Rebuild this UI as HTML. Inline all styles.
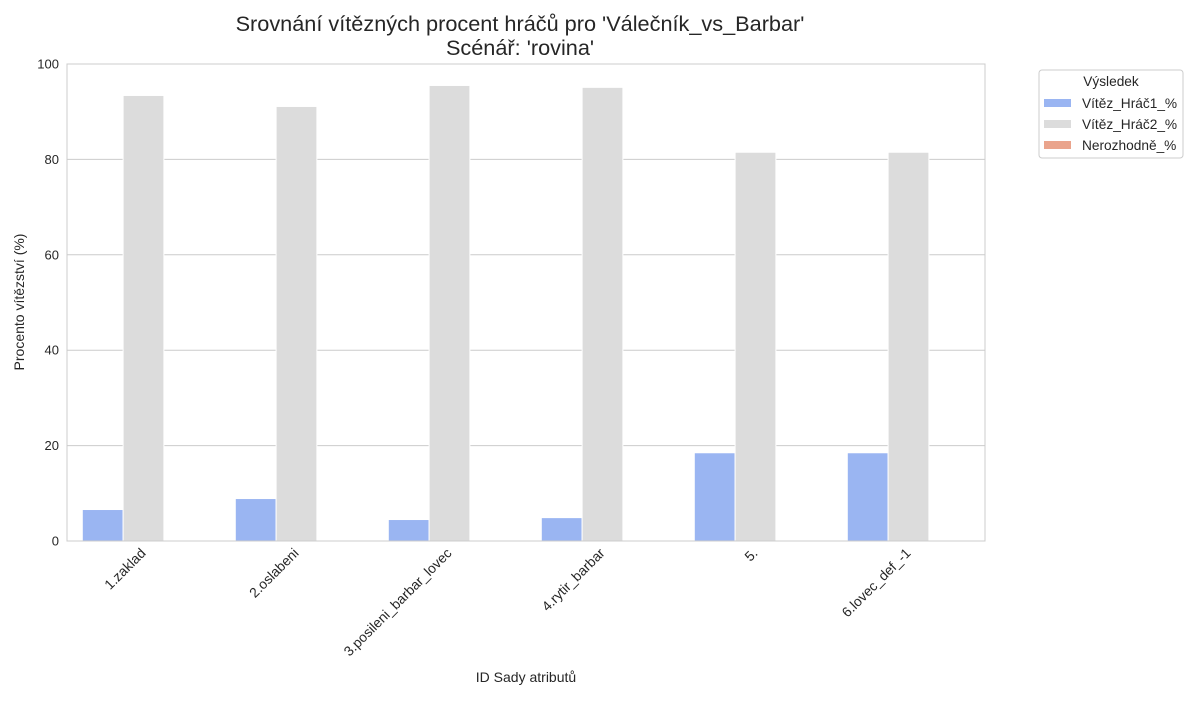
<!DOCTYPE html>
<html><head><meta charset="utf-8">
<style>
body{margin:0;background:#fff;font-family:"Liberation Sans","DejaVu Sans",sans-serif;}
svg text{font-family:"Liberation Sans","DejaVu Sans",sans-serif;fill:#262626;}
</style></head>
<body>
<svg id="chart" width="1200" height="700" xmlns="http://www.w3.org/2000/svg">
<text x="520" y="31" font-size="21.7" text-anchor="middle">Srovnání vítězných procent hráčů pro 'Válečník_vs_Barbar'</text>
<text x="520" y="55" font-size="21.7" text-anchor="middle">Scénář: 'rovina'</text>
<g id="grid"></g>
<g id="bars"></g>
<rect x="67" y="64" width="918" height="477" fill="none" stroke="#cccccc" stroke-width="1"/>
<g id="yticks"></g>
<g id="xticks"></g>
<text transform="translate(24,302) rotate(-90)" font-size="14" text-anchor="middle">Procento vítězství (%)</text>
<text x="526" y="682" font-size="14" text-anchor="middle">ID Sady atributů</text>
<g>
<rect x="1039" y="70" width="144" height="88" rx="3" fill="#fff" stroke="#cccccc"/>
<text x="1111" y="86" font-size="13.7" text-anchor="middle">Výsledek</text>
<rect x="1044" y="99" width="27" height="8" fill="#9ab5f2"/>
<text x="1082" y="108" font-size="13.7">Vítěz_Hráč1_%</text>
<rect x="1044" y="120" width="27" height="8" fill="#dcdcdc"/>
<text x="1082" y="129" font-size="13.7">Vítěz_Hráč2_%</text>
<rect x="1044" y="141" width="27" height="8" fill="#eaa48c"/>
<text x="1082" y="150" font-size="13.7">Nerozhodně_%</text>
</g>
</svg>
<script>
const categories = ["1.zaklad","2.oslabeni","3.posileni_barbar_lovec","4.rytir_barbar","5.","6.lovec_def_-1"];
const hrac1 = [6.6, 8.9, 4.5, 4.9, 18.5, 18.5];
const hrac2 = [93.4, 91.1, 95.5, 95.1, 81.5, 81.5];
const nerozhodne = [0, 0, 0, 0, 0, 0];
const yTicks = [0, 20, 40, 60, 80, 100];
const seriesColors = ["#9ab5f2", "#dcdcdc", "#eaa48c"];
const seriesNames = ["hrac1", "hrac2", "nerozhodne"];

const NS = "http://www.w3.org/2000/svg";
const X0 = 67, X1 = 985, Y0 = 541, Y1 = 64;
const yScale = v => Y0 - (v / 100) * (Y0 - Y1);
const band = (X1 - X0) / categories.length;
const xCenter = i => X0 + band * (i + 0.5);
const barW = band * 0.8 / 3;

const grid = document.getElementById("grid");
const yt = document.getElementById("yticks");
yTicks.forEach(t => {
  const l = document.createElementNS(NS, "line");
  
  
  l.setAttribute("x1", X0); l.setAttribute("x2", X1);
  l.setAttribute("y1", yScale(t)); l.setAttribute("y2", yScale(t));
  l.setAttribute("stroke", "#cccccc"); l.setAttribute("stroke-width", "1");
  grid.appendChild(l);
  const tx = document.createElementNS(NS, "text");
  
  
  tx.setAttribute("x", X0 - 8); tx.setAttribute("y", yScale(t) + 4.5);
  tx.setAttribute("font-size", "13"); tx.setAttribute("text-anchor", "end");
  tx.textContent = t;
  yt.appendChild(tx);
});

const bars = document.getElementById("bars");
[hrac1, hrac2, nerozhodne].forEach((series, s) => {
  series.forEach((v, i) => {
    const r = document.createElementNS(NS, "rect");
    
    
    const x = xCenter(i) - band * 0.4 + s * barW;
    r.setAttribute("x", x); r.setAttribute("width", barW);
    r.setAttribute("y", yScale(v)); r.setAttribute("height", Y0 - yScale(v));
    r.setAttribute("fill", seriesColors[s]);
    r.setAttribute("stroke", "#fff"); r.setAttribute("stroke-width", "1");
    bars.appendChild(r);
  });
});

const xt = document.getElementById("xticks");
categories.forEach((c, i) => {
  const tx = document.createElementNS(NS, "text");
  
  
  const x = xCenter(i) + 3, y = Y0 + 13;
  tx.setAttribute("transform", `translate(${x},${y}) rotate(-45)`);
  tx.setAttribute("font-size", "13.8"); tx.setAttribute("text-anchor", "end");
  tx.textContent = c;
  xt.appendChild(tx);
});
</script>
</body></html>
